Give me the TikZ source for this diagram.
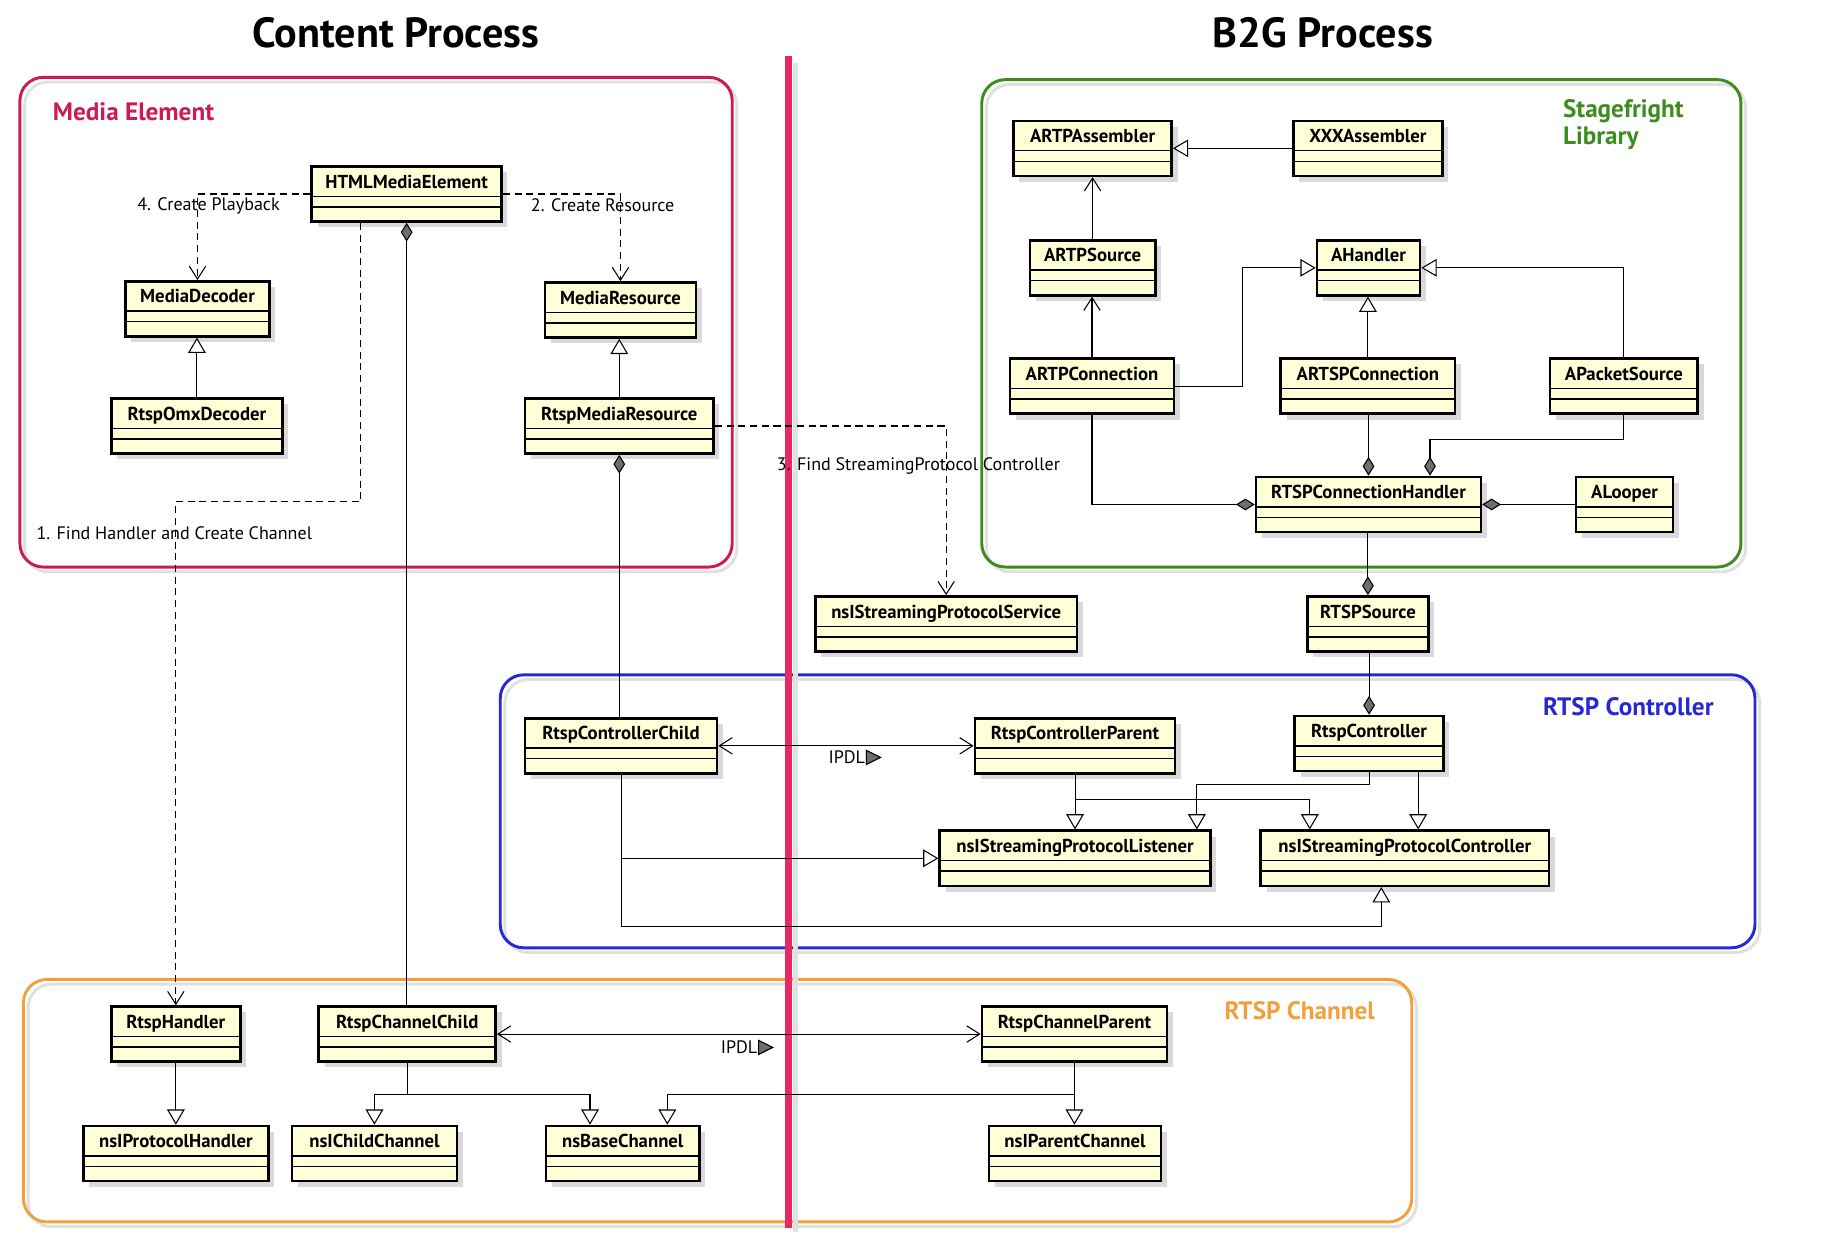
\documentclass[tikz,border=0pt]{standalone}
\usepackage{fontspec}
\setmainfont{PT Sans}
\usetikzlibrary{arrows.meta,shadows}
\definecolor{classfill}{RGB}{255,255,215}
\definecolor{mediared}{RGB}{204,26,88}
\definecolor{stagegreen}{RGB}{60,140,30}
\definecolor{ctrlblue}{RGB}{40,40,210}
\definecolor{chanorange}{RGB}{240,160,60}
\definecolor{splitpink}{RGB}{236,40,100}
\definecolor{diamondgray}{RGB}{110,110,110}

\begin{document}
\begin{tikzpicture}[x=1pt, y=-1pt]
    \tikzstyle{umlclass} = [rectangle, draw, line width=2.2pt, fill=classfill, anchor=north west, inner sep=0pt, minimum height=47pt, text height=18.5pt, text depth=28.5pt, font=\fontsize{16}{18}\selectfont\bfseries, drop shadow={shadow xshift=5pt, shadow yshift=-5pt, fill=black!15, opacity=1}, path picture={\draw[line width=1.2pt] ([yshift=-25.5pt]path picture bounding box.north west) -- ([yshift=-25.5pt]path picture bounding box.north east) ([yshift=-34.5pt]path picture bounding box.north west) -- ([yshift=-34.5pt]path picture bounding box.north east);}]
    \tikzstyle{group} = [line width=2.5pt, rounded corners=20pt]
    \tikzstyle{groupshadow} = [line width=2.5pt, rounded corners=20pt, draw=black!12]
    \tikzstyle{grouplabel} = [font=\fontsize{21.5}{23}\selectfont\bfseries, anchor=west, inner sep=0pt]
    \tikzstyle{msg} = [font=\fontsize{15.4}{17}\selectfont, anchor=west, inner sep=0pt]
    \tikzstyle{link} = [line width=0.9pt]
    \tikzstyle{depend} = [link, dash pattern=on 6pt off 4pt, -{Straight Barb[length=11pt,width=14pt]}]
    \tikzstyle{assoc} = [link, -{Straight Barb[length=11pt,width=14pt]}]
    \tikzstyle{inherit} = [link, -{Triangle[length=13pt,width=15pt,fill=white]}]
    \tikzstyle{compo} = [link, {Diamond[length=16pt,width=10pt,fill=diamondgray]}-]
    \tikzstyle{ipdl} = [link, {Straight Barb[length=11pt,width=14pt]}-{Straight Barb[length=11pt,width=14pt]}]

    \useasboundingbox[fill=white] (0,0) rectangle (1568,1074);

    % Process titles
    \node[font=\fontsize{36}{40}\selectfont\bfseries] (content) at (338,28) {Content Process};
    \node[font=\fontsize{36}{40}\selectfont\bfseries] (b2g) at (1129,28) {B2G Process};

    % Groups
    \draw[groupshadow] (21,70) rectangle (629,488);
    \draw[group, draw=mediared] (17,66) rectangle (625,484);
    \draw[groupshadow] (842,72) rectangle (1490,488);
    \draw[group, draw=stagegreen] (838,68) rectangle (1486,484);
    \draw[groupshadow] (431,580) rectangle (1502,813);
    \draw[group, draw=ctrlblue] (427,576) rectangle (1498,809);
    \draw[groupshadow] (24,840) rectangle (1209,1047);
    \draw[group, draw=chanorange] (20,836) rectangle (1205,1043);

    \node[grouplabel, text=mediared] (lblmedia) at (45,95) {Media Element};
    \node[grouplabel, text=stagegreen, align=left] (lblstage) at (1334,106) {Stagefright\\Library};
    \node[grouplabel, text=ctrlblue] (lblctrl) at (1317,603) {RTSP Controller};
    \node[grouplabel, text=chanorange] (lblchan) at (1045,863) {RTSP Channel};

    % Process split
    \draw[line width=5pt, black!12] (679,54) -- (679,1052);
    \draw[line width=5.4pt, splitpink] (673,48) -- (673,1048);

    % Content process classes
    \node[umlclass, minimum width=162] (html) at (265,141) {HTMLMediaElement};
    \node[umlclass, minimum width=123] (mdec) at (106,239) {MediaDecoder};
    \node[umlclass, minimum width=129] (mres) at (464,240) {MediaResource};
    \node[umlclass, minimum width=146] (omx) at (94,339) {RtspOmxDecoder};
    \node[umlclass, minimum width=161] (rmres) at (447,339) {RtspMediaResource};
    \node[umlclass, minimum width=223] (sps) at (695,508) {nsIStreamingProtocolService};

    % Stagefright classes
    \node[umlclass, minimum width=135] (artpasm) at (864,102) {ARTPAssembler};
    \node[umlclass, minimum width=127] (xxxasm) at (1103,102) {XXXAssembler};
    \node[umlclass, minimum width=107] (artpsrc) at (878,204) {ARTPSource};
    \node[umlclass, minimum width=88] (ahandler) at (1123,204) {AHandler};
    \node[umlclass, minimum width=140] (artpconn) at (861,305) {ARTPConnection};
    \node[umlclass, minimum width=149] (artspconn) at (1092,305) {ARTSPConnection};
    \node[umlclass, minimum width=126] (apkt) at (1322,305) {APacketSource};
    \node[umlclass, minimum width=192] (connhandler) at (1071,406) {RTSPConnectionHandler};
    \node[umlclass, minimum width=83] (alooper) at (1344,406) {ALooper};
    \node[umlclass, minimum width=103] (rtspsrc) at (1115,508) {RTSPSource};

    % Controller classes
    \node[umlclass, minimum width=164] (ctlchild) at (447,612) {RtspControllerChild};
    \node[umlclass, minimum width=171] (ctlparent) at (831,612) {RtspControllerParent};
    \node[umlclass, minimum width=127] (ctl) at (1104,610) {RtspController};
    \node[umlclass, minimum width=231] (listener) at (801,708) {nsIStreamingProtocolListener};
    \node[umlclass, minimum width=246] (controller) at (1075,708) {nsIStreamingProtocolController};

    % Channel classes
    \node[umlclass, minimum width=110] (rhandler) at (94,858) {RtspHandler};
    \node[umlclass, minimum width=151] (chchild) at (271,858) {RtspChannelChild};
    \node[umlclass, minimum width=158] (chparent) at (837,858) {RtspChannelParent};
    \node[umlclass, minimum width=158] (protoh) at (70,960) {nsIProtocolHandler};
    \node[umlclass, minimum width=141] (childch) at (248,960) {nsIChildChannel};
    \node[umlclass, minimum width=131] (basech) at (465,960) {nsBaseChannel};
    \node[umlclass, minimum width=147] (parentch) at (843,960) {nsIParentChannel};

    % Messages
    \node[msg] (msg4) at (117,175.5) {4. Create Playback};
    \node[msg] (msg2) at (453,175.5) {2. Create Resource};
    \node[msg] (msg1) at (31,455) {1. Find Handler and Create Channel};
    \node[msg] (msg3) at (663,398) {3. Find StreamingProtocol Controller};
    \node[msg] (ipdlctl) at (707,646.5) {IPDL};
    \node[msg] (ipdlch) at (615,894) {IPDL};
    \filldraw[fill=diamondgray, line width=1pt] ([xshift=1pt,yshift=6pt]ipdlctl.east) -- ++(12,6) -- ++(-12,6) -- cycle;
    \filldraw[fill=diamondgray, line width=1pt] ([xshift=1pt,yshift=6pt]ipdlch.east) -- ++(12,6) -- ++(-12,6) -- cycle;

    % Media element links
    \draw[depend] (html.west) -| (mdec.north);
    \draw[depend] (html.east) -| (mres.north);
    \draw[depend] ([xshift=-39pt]html.south) -- ++(0,238) -| (rhandler.north);
    \draw[depend] (rmres.east) -| (sps.north);
    \draw[compo] (html.south) -- (html.south |- chchild.north);
    \draw[inherit] (omx.north) -- (omx.north |- mdec.south);
    \draw[inherit] (rmres.north) -- (rmres.north |- mres.south);
    \draw[compo] (rmres.south) -- (rmres.south |- ctlchild.north);

    % Stagefright links
    \draw[inherit] (xxxasm.west) -- (artpasm.east);
    \draw[assoc] (artpsrc.north) -- (artpsrc.north |- artpasm.south);
    \draw[assoc] (artpconn.north) -- (artpconn.north |- artpsrc.south);
    \draw[inherit] (artpconn.east) -- ++(57,0) |- (ahandler.west);
    \draw[inherit] (artspconn.north) -- (artspconn.north |- ahandler.south);
    \draw[inherit] (apkt.north) |- (ahandler.east);
    \draw[compo] (connhandler.north) -- (connhandler.north |- artspconn.south);
    \draw[compo] ([xshift=52.5pt]connhandler.north) -- ++(0,-30.7) -| (apkt.south);
    \draw[compo] (connhandler.west) -| (artpconn.south);
    \draw[compo] (connhandler.east) -- (alooper.west);
    \draw[compo] (rtspsrc.north) -- (rtspsrc.north |- connhandler.south);
    \draw[compo] (ctl.north) -- (ctl.north |- rtspsrc.south);

    % Controller links
    \draw[ipdl] (ctlchild.east) -- (ctlparent.west);
    \draw[inherit] (ctlparent.south) -- (ctlparent.south |- listener.north);
    \draw[inherit] ([yshift=-21pt]ctlparent.south) -| ([xshift=43pt]controller.north west);
    \draw[inherit] (ctl.south) -- ++(0,10.6) -| ([xshift=-12.6pt]listener.north east);
    \draw[inherit] ([xshift=-22.7pt]ctl.south east) -- ([xshift=-22.7pt]ctl.south east |- controller.north);
    \draw[inherit] (ctlchild.south) |- (listener.west);
    \draw[inherit] (ctlchild.south) -- ++(0,130) -| ([xshift=104pt]controller.south west);

    % Channel links
    \draw[ipdl] (chchild.east) -- (chparent.west);
    \draw[inherit] (rhandler.south) -- (rhandler.south |- protoh.north);
    \draw[inherit] (chchild.south) -- ++(0,27) -| (childch.north);
    \draw[inherit] (chchild.south) -- ++(0,27) -| ([xshift=-28pt]basech.north);
    \draw[inherit] (chparent.south) -- ++(0,27) -| ([xshift=38pt]basech.north);
    \draw[inherit] (chparent.south) -- (chparent.south |- parentch.north);
\end{tikzpicture}
\end{document}
